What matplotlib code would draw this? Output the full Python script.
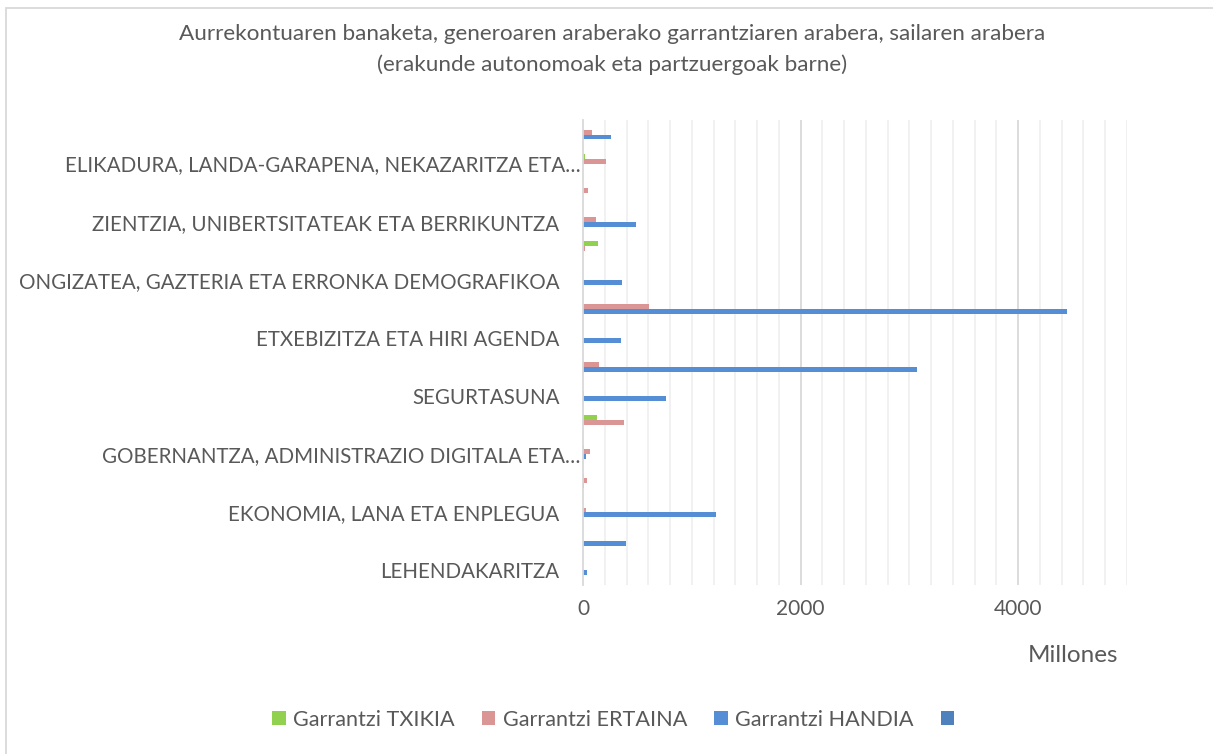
import matplotlib
matplotlib.use("Agg")
import matplotlib.pyplot as plt
import numpy as np
from matplotlib.patches import Rectangle
from matplotlib.transforms import ScaledTranslation

plt.rcParams['font.family'] = ['Lato', 'DejaVu Sans']

# Categories from bottom (first) to top; only every other label is shown in the reference
labels = [
    "LEHENDAKARITZA", "",
    "EKONOMIA, LANA ETA ENPLEGUA", "",
    "GOBERNANTZA, ADMINISTRAZIO DIGITALA ETA…", "",
    "SEGURTASUNA", "",
    "ETXEBIZITZA ETA HIRI AGENDA", "",
    "ONGIZATEA, GAZTERIA ETA ERRONKA DEMOGRAFIKOA", "",
    "ZIENTZIA, UNIBERTSITATEAK ETA BERRIKUNTZA", "",
    "ELIKADURA, LANDA-GARAPENA, NEKAZARITZA ETA…", "",
]

# Values in millions
txikia  = [0, 0, 0, 10, 5, 126, 0, 0, 0, 0, 0, 141, 0, 0, 20, 0]
ertaina = [0, 0, 28, 34, 64, 380, 12, 150, 0, 610, 0, 15, 115, 46, 210, 83]
handia  = [40, 393, 1225, 12, 24, 0, 760, 3071, 346, 4450, 356, 0, 487, 0, 0, 257]
laugarren = [0] * 16

series_names = ["Garrantzi TXIKIA", "Garrantzi ERTAINA", "Garrantzi HANDIA", ""]
colors = ["#92d050", "#da9694", "#558ed5", "#4f81bd"]

W, H = 1213, 754
fig = plt.figure(figsize=(W / 100, H / 100), dpi=100)
fig.patch.set_facecolor("white")

ax = fig.add_axes([583 / W, 1 - 585 / H, (1127 - 583) / W, (585 - 120) / H])

y = np.arange(len(labels))
w = 1 / 6
offsets = [1.5 * w, 0.5 * w, -0.5 * w, -1.5 * w]
handles = []
for vals, off, col, name in zip([txikia, ertaina, handia, laugarren], offsets, colors, series_names):
    bc = ax.barh(y + off, vals, height=w, color=col, label=name, linewidth=0)
    handles.append(bc)

ax.set_xlim(0, 5000)
ax.set_ylim(-0.5, len(labels) - 0.5)

ax.set_xticks([0, 2000, 4000])
ax.grid(False)
for xv in np.arange(200, 5001, 200):
    major = (xv % 2000 == 0) and xv < 5000
    ax.axvline(xv, color="#d9d9d9" if major else "#f0f0f0", lw=1.3, zorder=0)

ax.set_yticks(y)
ax.set_yticklabels(labels)

for s in ["top", "right", "bottom"]:
    ax.spines[s].set_visible(False)
ax.spines["left"].set_color("#d9d9d9")
ax.spines["left"].set_linewidth(1.3)

ax.tick_params(axis="both", which="both", length=0)
ax.tick_params(axis="x", labelsize=15, labelcolor="#595959", pad=10)
ax.tick_params(axis="y", labelsize=14.8, labelcolor="#595959", pad=17)

for lbl in ax.get_yticklabels():
    if lbl.get_text().endswith("…"):
        lbl.set_transform(lbl.get_transform() + ScaledTranslation(21 / 100, 0, fig.dpi_scale_trans))

fig.text(612 / W, 1 - 34 / H, "Aurrekontuaren banaketa, generoaren araberako garrantziaren arabera, sailaren arabera",
         ha="center", va="center", fontsize=16.2, color="#595959")
fig.text(612 / W, 1 - 65 / H, "(erakunde autonomoak eta partzuergoak barne)",
         ha="center", va="center", fontsize=16.2, color="#595959")

fig.text(1118 / W, 1 - 655 / H, "Millones", ha="right", va="center", fontsize=17.5, color="#595959")

leg = fig.legend(handles=handles, labels=series_names, loc="center", bbox_to_anchor=(617 / W, 1 - 720 / H),
                 ncol=4, frameon=False, fontsize=15.6, handlelength=0.62, handleheight=0.62,
                 handletextpad=0.35, columnspacing=1.25, labelcolor="#595959")

fig.add_artist(Rectangle((6 / W, -0.01), 1.02, 1 - 8 / H + 0.01, transform=fig.transFigure,
                         fill=False, edgecolor="#d9d9d9", lw=1.3))

fig.savefig("out.png", dpi=100)
